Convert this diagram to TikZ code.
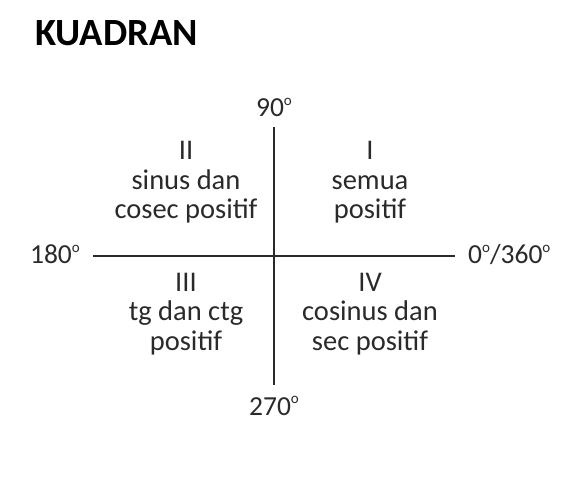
\documentclass[tikz,border=0pt]{standalone}
\usepackage{fontspec}
\setmainfont{Carlito}
\usetikzlibrary{positioning}
\usetikzlibrary{calc}
\definecolor{ink}{HTML}{2A2A2A}
\newcommand{\dg}{\raisebox{0.42em}{\fontsize{15}{15}\selectfont o}}

\begin{document}
\begin{tikzpicture}[x=1pt,y=1pt,
    quadtext/.style={align=center,anchor=base,inner sep=0pt,text=ink,font=\fontsize{28.5}{29.5}\selectfont},
    degtext/.style={inner sep=0pt,text=ink,font=\fontsize{27.5}{30}\selectfont}]
            \useasboundingbox (0,0) rectangle (568,480);
            \node[anchor=base west,inner sep=0pt,font=\fontsize{38.5}{42}\selectfont\bfseries] (title) at (35,434) {KUADRAN};

            \coordinate (top) at (274,353);
            \coordinate (bottom) at (274,95);
            \coordinate (left) at (93,224);
            \coordinate (right) at (455,224);
            \draw[ink,line width=1.6pt] (left) -- (right);
            \draw[ink,line width=1.6pt] (top) -- (bottom);

            \node[degtext,anchor=base] (north) at (274,363) {90\dg};
            \node[degtext,anchor=base] (south) at (274,65) {270\dg};
            \node[degtext,anchor=base east] (west) at (80,216) {180\dg};
            \node[degtext,anchor=base west] (east) at (468,216) {0\dg/360\dg};

            \node[quadtext] (q1) at (370,261) {I\\semua\\positif};
            \node[quadtext] (q2) at (186,261) {II\\sinus dan\\cosec positif};
            \node[quadtext] (q3) at (186,130) {III\\tg dan ctg\\positif};
            \node[quadtext] (q4) at (370,130) {IV\\cosinus dan\\sec positif};
        \end{tikzpicture}
\end{document}
